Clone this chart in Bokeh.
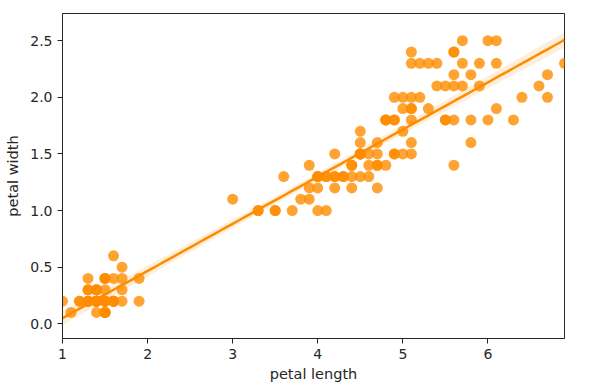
import numpy as np
from bokeh.plotting import figure
from bokeh.models import FixedTicker, PrintfTickFormatter, Range1d
from bokeh.embed import file_html
from bokeh.resources import INLINE

petal_length = [
    1.4,1.4,1.3,1.5,1.4,1.7,1.4,1.5,1.4,1.5,1.5,1.6,1.4,1.1,1.2,1.5,1.3,1.4,1.7,1.5,1.7,1.5,1.0,1.7,1.9,
    1.6,1.6,1.5,1.4,1.6,1.6,1.5,1.5,1.4,1.5,1.2,1.3,1.5,1.3,1.5,1.3,1.3,1.3,1.6,1.9,1.4,1.6,1.4,1.5,1.4,
    4.7,4.5,4.9,4.0,4.6,4.5,4.7,3.3,4.6,3.9,3.5,4.2,4.0,4.7,3.6,4.4,4.5,4.1,4.5,3.9,4.8,4.0,4.9,4.7,4.3,
    4.4,4.8,5.0,4.5,3.5,3.8,3.7,3.9,5.1,4.5,4.5,4.7,4.4,4.1,4.0,4.4,4.6,4.0,3.3,4.2,4.2,4.2,4.3,3.0,4.1,
    6.0,5.1,5.9,5.6,5.8,6.6,4.5,6.3,5.8,6.1,5.1,5.3,5.5,5.0,5.1,5.3,5.5,6.7,6.9,5.0,5.7,4.9,6.7,4.9,5.7,
    6.0,4.8,4.9,5.6,5.8,6.1,6.4,5.6,5.1,5.6,6.1,5.6,5.5,4.8,5.4,5.6,5.1,5.1,5.9,5.7,5.2,5.0,5.2,5.4,5.1,
]
petal_width = [
    0.2,0.2,0.2,0.2,0.2,0.4,0.3,0.2,0.2,0.1,0.2,0.2,0.1,0.1,0.2,0.4,0.4,0.3,0.3,0.3,0.2,0.4,0.2,0.5,0.2,
    0.2,0.4,0.2,0.2,0.2,0.2,0.4,0.1,0.2,0.1,0.2,0.2,0.1,0.2,0.2,0.3,0.3,0.2,0.6,0.4,0.3,0.2,0.2,0.2,0.2,
    1.4,1.5,1.5,1.3,1.5,1.3,1.6,1.0,1.3,1.4,1.0,1.5,1.0,1.4,1.3,1.4,1.5,1.0,1.5,1.1,1.8,1.3,1.5,1.2,1.3,
    1.4,1.4,1.7,1.5,1.0,1.1,1.0,1.2,1.6,1.5,1.6,1.5,1.3,1.3,1.3,1.2,1.4,1.2,1.0,1.3,1.2,1.3,1.3,1.1,1.3,
    2.5,1.9,2.1,1.8,2.2,2.1,1.7,1.8,1.8,2.5,2.0,1.9,2.1,2.0,2.4,2.3,1.8,2.2,2.3,1.5,2.3,2.0,2.0,1.8,2.1,
    1.8,1.8,1.8,2.1,1.6,1.9,2.0,2.2,1.5,1.4,2.3,2.4,1.8,1.8,2.1,2.4,2.3,1.9,2.3,2.5,2.3,1.9,2.0,2.3,1.8,
]
x_ticks = [1, 2, 3, 4, 5, 6]
y_ticks = [0.0, 0.5, 1.0, 1.5, 2.0, 2.5]

x = np.array(petal_length)
y = np.array(petal_width)
n = len(x)
slope, intercept = np.polyfit(x, y, 1)
xs = np.linspace(x.min(), x.max(), 100)
yhat = intercept + slope * xs
resid = y - (intercept + slope * x)
s = np.sqrt(np.sum(resid ** 2) / (n - 2))
sxx = np.sum((x - x.mean()) ** 2)
se = s * np.sqrt(1.0 / n + (xs - x.mean()) ** 2 / sxx)
lower = yhat - 1.976 * se
upper = yhat + 1.976 * se

ORANGE = "#ff8c00"
TXT = "#262626"

p = figure(width=581, height=384, output_backend="svg", toolbar_location=None,
           x_range=Range1d(1.0, 6.9), y_range=Range1d(-0.13, 2.74),
           min_border_left=62, min_border_right=17, min_border_top=13, min_border_bottom=46)

p.varea(x=xs, y1=lower, y2=upper, fill_color=ORANGE, fill_alpha=0.15)
p.scatter(x, y, size=11, fill_color=ORANGE, fill_alpha=0.8, line_color=None)
p.line(xs, yhat, line_color=ORANGE, line_width=2.5)

p.xgrid.visible = False
p.ygrid.visible = False
p.outline_line_color = TXT
p.outline_line_width = 1
p.outline_line_alpha = 1

p.xaxis.ticker = FixedTicker(ticks=x_ticks)
p.yaxis.ticker = FixedTicker(ticks=y_ticks)
p.yaxis.formatter = PrintfTickFormatter(format="%.1f")
p.xaxis.axis_label = "petal length"
p.yaxis.axis_label = "petal width"
for ax in (p.xaxis, p.yaxis):
    ax.axis_line_color = TXT
    ax.major_tick_line_color = TXT
    ax.major_tick_out = 5
    ax.major_tick_in = 0
    ax.minor_tick_line_color = None
    ax.major_label_text_font = "DejaVu Sans"
    ax.major_label_text_font_size = "14px"
    ax.major_label_text_color = TXT
    ax.axis_label_text_font = "DejaVu Sans"
    ax.axis_label_text_font_size = "14.5px"
    ax.axis_label_text_font_style = "normal"
    ax.axis_label_text_color = TXT
p.xaxis.axis_label_standoff = 4
p.yaxis.axis_label_standoff = 6

open("out.html", "w").write(file_html(p, INLINE))
